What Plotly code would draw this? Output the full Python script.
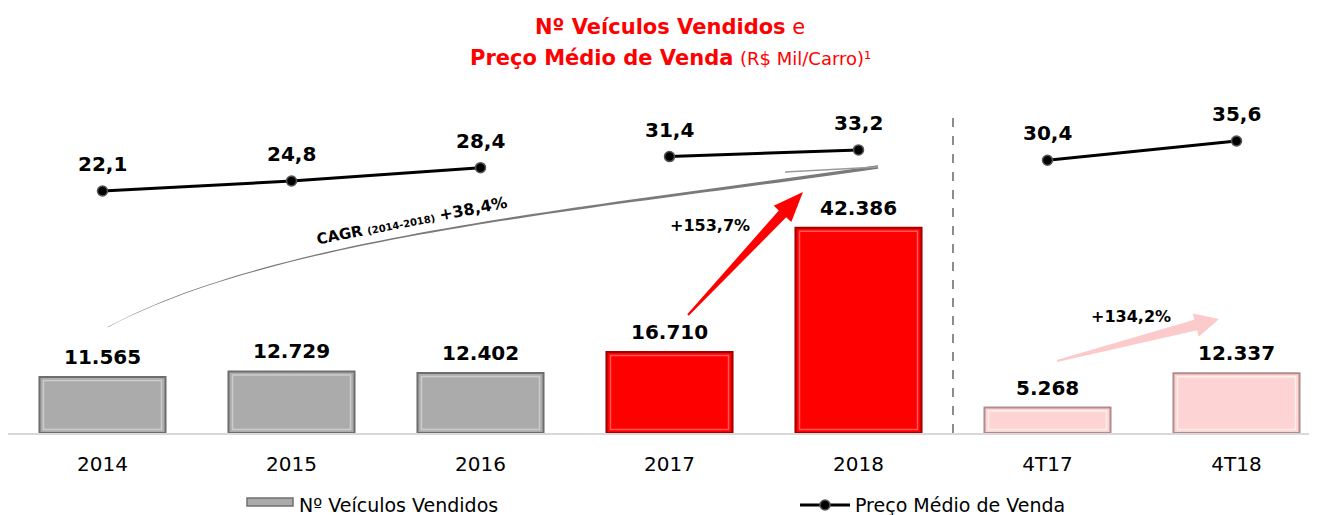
import numpy as np
import plotly.graph_objects as go

# ---------------- data ----------------
categories = ["2014", "2015", "2016", "2017", "2018", "4T17", "4T18"]
vehicles_sold = [11565, 12729, 12402, 16710, 42386, 5268, 12337]
avg_price = [22.1, 24.8, 28.4, 31.4, 33.2, 30.4, 35.6]
price_segments = [(0, 3), (3, 5), (5, 7)]  # line is broken between groups
bar_colors = ["#ABABAB"] * 3 + ["#FF0000"] * 2 + ["#FDD3D3"] * 2
bar_edges = ["#6E6E6E"] * 3 + ["#A00000"] * 2 + ["#B08C8C"] * 2
bar_highlights = ["#CDCDCD"] * 3 + ["#FF5A5A"] * 2 + ["#FFF0F0"] * 2
growth_labels = {"cagr": "+38,4%", "y2018": "+153,7%", "q4": "+134,2%"}

# ---------------- layout geometry ----------------
# page has an 8px body margin; page pixel -> figure pixel = page - 8
OFF = 8
WIDTH, HEIGHT = 1309, 507
L, R, T = 0, 0, 72
PH = 425 - T
B = HEIGHT - T - PH
PW = WIDTH - L - R
PX_PER_UNIT_Y = 4.84 / 1000      # pixels per vehicle
PX_PER_UNIT_Y2 = 3.7             # pixels per R$ mil
PX_PER_CAT = 189


def px(x):
    return (x - OFF - L) / PW


def py(y):
    return (T + PH - (y - OFF)) / PH


def poly_path(points):
    return "M " + " L ".join(f"{px(x):.5f},{py(y):.5f}" for x, y in points) + " Z"


def line_path(points):
    return "M " + " L ".join(f"{px(x):.5f},{py(y):.5f}" for x, y in points)


def arrow_points(tail, tip, w0, w1, head_len, head_half):
    tail = np.array(tail, float)
    tip = np.array(tip, float)
    d = tip - tail
    u = d / np.linalg.norm(d)
    n = np.array([-u[1], u[0]])
    base = tip - u * head_len
    pts = [tail + n * w0 / 2, base + n * w1 / 2, base + n * head_half, tip,
           base - n * head_half, base - n * w1 / 2, tail - n * w0 / 2]
    return [tuple(p) for p in pts]


def curve_arrow_points(p0, p1, p2, p3, w_start, w_end, n=60):
    t = np.linspace(0, 1, n)[:, None]
    P = [np.array(p, float) for p in (p0, p1, p2, p3)]
    pts = (1 - t) ** 3 * P[0] + 3 * (1 - t) ** 2 * t * P[1] + 3 * (1 - t) * t ** 2 * P[2] + t ** 3 * P[3]
    der = 3 * (1 - t) ** 2 * (P[1] - P[0]) + 6 * (1 - t) * t * (P[2] - P[1]) + 3 * t ** 2 * (P[3] - P[2])
    der = der / np.linalg.norm(der, axis=1)[:, None]
    nrm = np.stack([-der[:, 1], der[:, 0]], axis=1)
    w = (w_start + (w_end - w_start) * t) / 2
    upper = pts + nrm * w
    lower = pts - nrm * w
    return [tuple(p) for p in upper] + [tuple(p) for p in lower[::-1]]


FONT = "DejaVu Sans"
idx = list(range(len(categories)))
BAR_W = 0.667

fig = go.Figure()

fig.add_trace(go.Bar(
    x=idx, y=vehicles_sold, name="Nº Veículos Vendidos",
    marker=dict(color=bar_colors, line=dict(color=bar_edges, width=2)),
    width=BAR_W, yaxis="y", showlegend=False, hoverinfo="skip",
))
# bevel highlight (inner lighter outline)
inset = 3.5 / PX_PER_UNIT_Y
fig.add_trace(go.Bar(
    x=idx, y=[v - 2 * inset for v in vehicles_sold], base=[inset] * len(idx),
    marker=dict(color="rgba(0,0,0,0)", line=dict(color=bar_highlights, width=1.5)),
    width=BAR_W - 8 / PX_PER_CAT, yaxis="y", showlegend=False, hoverinfo="skip",
))

for i, (a, b) in enumerate(price_segments):
    fig.add_trace(go.Scatter(
        x=idx[a:b], y=avg_price[a:b], yaxis="y2", mode="lines+markers",
        name="Preço Médio de Venda", showlegend=False,
        line=dict(color="black", width=3),
        marker=dict(size=10, color="black", line=dict(color="#555555", width=1.5)),
        hoverinfo="skip",
    ))

annotations = []
for i, v in zip(idx, vehicles_sold):
    annotations.append(dict(
        x=i, y=v, xref="x", yref="y", xanchor="center", yanchor="bottom", yshift=6,
        text=f"<b>{v:,}</b>".replace(",", "."), showarrow=False,
        font=dict(family=FONT, size=20, color="black"),
    ))
for i, v in zip(idx, avg_price):
    annotations.append(dict(
        x=i, y=v, xref="x", yref="y2", xanchor="center", yanchor="bottom", yshift=13,
        text=f"<b>{v:.1f}</b>".replace(".", ","), showarrow=False,
        font=dict(family=FONT, size=20, color="black"),
    ))


def note(x, y, text, size, color="black", xanchor="center", angle=0):
    annotations.append(dict(
        x=px(x), y=py(y), xref="paper", yref="paper", xanchor=xanchor, yanchor="middle",
        showarrow=False, text=text, textangle=angle,
        font=dict(family=FONT, size=size, color=color),
    ))


# title (two lines)
note(670, 27, "<b>Nº Veículos Vendidos</b> e", 21, "#FF0000")
note(670, 58, "<b>Preço Médio de Venda</b> <span style='font-size:18px'>(R$ Mil/Carro)¹</span>",
     21, "#FF0000")

# growth texts
note(412, 221, "<b>CAGR</b> <span style='font-size:10px'><b>(2014-2018)</b></span> "
     f"<span style='font-size:16px'><b>{growth_labels['cagr']}</b></span>", 15, angle=-11)
note(710, 225, f"<b>{growth_labels['y2018']}</b>", 16)
note(1131, 316, f"<b>{growth_labels['q4']}</b>", 16)

# custom legend texts
note(297, 505, "Nº Veículos Vendidos", 19, xanchor="left")
note(853, 505, "Preço Médio de Venda", 19, xanchor="left")

shapes = []
# separator between annual and quarterly data
shapes.append(dict(type="line", xref="x", yref="paper", x0=4.5, x1=4.5, y0=0, y1=py(118),
                   line=dict(color="#8C8C8C", width=2, dash="dash")))
# CAGR curved grey arrow
shapes.append(dict(type="path", xref="paper", yref="paper",
                   path=poly_path(curve_arrow_points((108, 327), (280, 235), (600, 208), (878, 167), 0.3, 3.5)),
                   fillcolor="#7A7A7A", line=dict(width=0)))
shapes.append(dict(type="path", xref="paper", yref="paper",
                   path=line_path([(785, 172), (878, 167)]),
                   line=dict(color="#9A9A9A", width=1.5)))
# red arrow
shapes.append(dict(type="path", xref="paper", yref="paper",
                   path=poly_path(arrow_points((688, 315), (803, 192), 2, 10, 30, 12)),
                   fillcolor="#FF0000", line=dict(width=0)))
# pink arrow
shapes.append(dict(type="path", xref="paper", yref="paper",
                   path=poly_path(arrow_points((1057, 361), (1219, 319), 2, 11, 24, 12)),
                   fillcolor="#FCCACA", line=dict(width=0)))
# legend swatches
shapes.append(dict(type="rect", xref="paper", yref="paper",
                   x0=px(247), x1=px(293), y0=py(506), y1=py(498),
                   fillcolor="#ABABAB", line=dict(color="#707070", width=1.5)))
shapes.append(dict(type="line", xref="paper", yref="paper",
                   x0=px(800), x1=px(850), y0=py(505), y1=py(505),
                   line=dict(color="black", width=3)))
shapes.append(dict(type="circle", xref="paper", yref="paper",
                   x0=px(820), x1=px(830), y0=py(510), y1=py(500),
                   fillcolor="black", line=dict(color="#555555", width=1.5)))

ymax = PH / PX_PER_UNIT_Y
y2_min = 22.1 - (T + PH - (191 - OFF)) / PX_PER_UNIT_Y2
y2_max = y2_min + PH / PX_PER_UNIT_Y2

fig.update_layout(
    width=WIDTH, height=HEIGHT,
    margin=dict(l=L, r=R, t=T, b=B, pad=0),
    paper_bgcolor="white", plot_bgcolor="white",
    showlegend=False, barmode="overlay",
    xaxis=dict(tickmode="array", tickvals=idx, ticktext=categories,
               range=[-0.5, -0.5 + PW / PX_PER_CAT], showgrid=False, zeroline=False,
               showline=True, linecolor="#D9D9D9", linewidth=2, ticks="",
               ticklabelstandoff=12,
               tickfont=dict(family=FONT, size=20, color="black")),
    yaxis=dict(range=[0, ymax], visible=False, showgrid=False),
    yaxis2=dict(range=[y2_min, y2_max], overlaying="y", visible=False, showgrid=False),
    annotations=annotations, shapes=shapes,
)

fig.write_html("out.html")
